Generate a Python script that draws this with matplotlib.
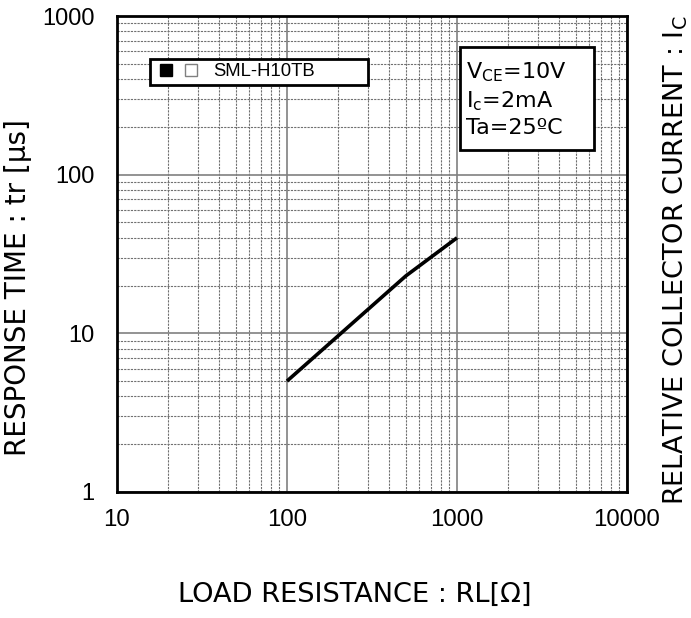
import matplotlib
matplotlib.use("Agg")
import matplotlib.pyplot as plt
from matplotlib.lines import Line2D
from matplotlib.patches import Rectangle
from matplotlib.legend_handler import HandlerTuple

# data
load_res = [100, 500, 1000]
resp_time = [5.0, 23.0, 40.0]
xticks = [10, 100, 1000, 10000]
yticks = [1, 10, 100, 1000]
series_name = "SML-H10TB"
cond_lines = [r"V$_{\mathrm{CE}}$=10V", r"I$_{\mathrm{c}}$=2mA", "Ta=25ºC"]

fig = plt.figure(figsize=(6.91, 6.18), dpi=100)
ax = fig.add_axes([0.1693, 0.2039, 0.9074 - 0.1693, 0.9741 - 0.2039])

ax.set_xscale("log")
ax.set_yscale("log")
ax.set_xlim(10, 10000)
ax.set_ylim(1, 1000)

ax.plot(load_res, resp_time, color="black", lw=2.6, solid_capstyle="butt", zorder=3)

ax.grid(True, which="major", color="#808080", lw=1.2, ls="-")
ax.grid(True, which="minor", color="#707070", lw=0.8, ls=(0, (2, 1)))
ax.set_axisbelow(True)

ax.set_xticks(xticks)
ax.set_xticklabels([str(v) for v in xticks], fontsize=17.3, family="Liberation Sans")
ax.set_yticks(yticks)
ax.set_yticklabels([str(v) for v in yticks], fontsize=17, family="Liberation Sans")
ax.tick_params(which="both", length=0)
ax.tick_params(axis="x", pad=12)
ax.tick_params(axis="y", pad=16)
for s in ax.spines.values():
    s.set_linewidth(2)
    s.set_color("black")

ax.set_xlabel("LOAD RESISTANCE : RL[Ω]", fontsize=19.6)
ax.xaxis.set_label_coords(0.467, -0.19)
ax.set_ylabel("RESPONSE TIME : tr [μs]", fontsize=20, va="center")
ax.yaxis.set_label_coords(-0.194, 0.43)

# legend: two square markers sharing one label
blk = Line2D([], [], ls="none", marker="s", ms=9, mfc="black", mec="black")
wht = Line2D([], [], ls="none", marker="s", ms=9, mfc="white", mec="#808080", mew=1)
leg = ax.legend(handles=[(blk, wht)], labels=[series_name],
                handler_map={tuple: HandlerTuple(ndivide=None, pad=0.12)},
                loc="lower left", bbox_to_anchor=(0.065, 0.855, 0.427, 0.062),
                mode="expand", fancybox=False, framealpha=1, edgecolor="black",
                prop={"family": "Liberation Sans", "size": 13.3},
                handlelength=2.59, handletextpad=0.55, borderpad=0.25, borderaxespad=0)
leg.get_frame().set_linewidth(2)
leg.set_zorder(5)

# conditions box
ax.add_patch(Rectangle((0.673, 0.718), 0.262, 0.217, transform=ax.transAxes,
                       facecolor="white", edgecolor="black", lw=2, zorder=5))
for line, yy in zip(cond_lines, [0.882, 0.821, 0.765]):
    ax.text(0.684, yy, line, transform=ax.transAxes,
            fontsize=16, va="center", ha="left", zorder=6)

fig.text(0.978, 0.183, "RELATIVE COLLECTOR CURRENT : I$_{\\mathrm{C}}$",
         rotation=90, fontsize=19.5, ha="center", va="bottom")

fig.savefig("out.png", dpi=100)
